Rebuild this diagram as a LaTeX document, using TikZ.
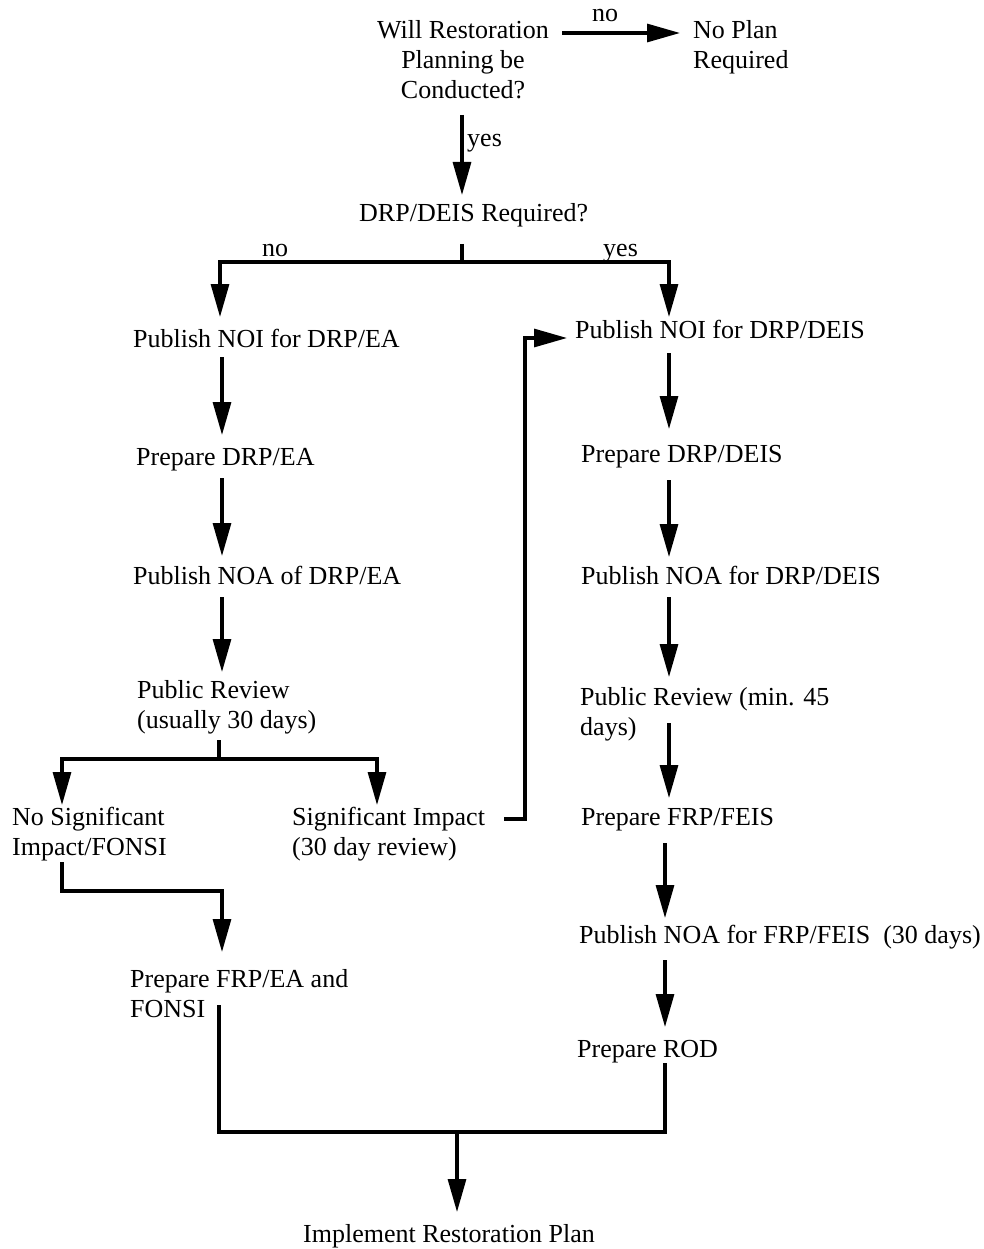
\documentclass[tikz,border=0pt]{standalone}
\usepackage{fontspec}
\setmainfont{Liberation Serif}
\usetikzlibrary{arrows.meta}
\begin{document}
\begin{tikzpicture}[x=1pt,y=-1pt,
  txt/.style={inner sep=0pt, font=\fontsize{26}{30}\selectfont, anchor=base west, align=left},
  ln/.style={line width=3.1pt},
  arr/.style={line width=3.1pt, -{Triangle[length=33pt,width=18pt]}}]
\useasboundingbox (0,0) rectangle (984,1249);
% nodes (multi-line nodes are placed at the baseline of their last line)
\node[txt, align=center, anchor=base] (q1) at (463,99) {Will Restoration\\Planning be\\Conducted?};
\node[txt] (noplan) at (693,69) {No Plan\\Required};
\node[txt, anchor=base] (lno1) at (605,22) {no};
\node[txt] (lyes1) at (467,147) {yes};
\node[txt] (q2) at (359,222) {DRP/DEIS Required?};
\node[txt] (lno2) at (262,257) {no};
\node[txt] (lyes2) at (603,257) {yes};
\node[txt] (a1) at (133,347) {Publish NOI for DRP/EA};
\node[txt] (a2) at (136,465) {Prepare DRP/EA};
\node[txt] (a3) at (133,584) {Publish NOA of DRP/EA};
\node[txt] (a4) at (137,728) {Public Review\\(usually 30 days)};
\node[txt] (a5) at (12,855) {No Significant\\Impact/FONSI};
\node[txt] (a6) at (292,855) {Significant Impact\\(30 day review)};
\node[txt] (a7) at (130,1017) {Prepare FRP/EA and\\FONSI};
\node[txt] (b1) at (575,338) {Publish NOI for DRP/DEIS};
\node[txt] (b2) at (581,462) {Prepare DRP/DEIS};
\node[txt] (b3) at (581,584) {Publish NOA for DRP/DEIS};
\node[txt] (b4) at (580,735) {Public Review (min. 45\\days)};
\node[txt] (b5) at (581,825) {Prepare FRP/FEIS};
\node[txt] (b6) at (579,943) {Publish NOA for FRP/FEIS\ \ (30 days)};
\node[txt] (b7) at (577,1057) {Prepare ROD};
\node[txt] (fin) at (303,1242) {Implement Restoration Plan};
% connector points
\coordinate (q1e) at (562,33);   \coordinate (npw) at (680,33);
\coordinate (q1s) at (462,115);  \coordinate (q2n) at (462,195);
\coordinate (q2s) at (462,244);  \coordinate (q2j) at (462,262);
\coordinate (a1n) at (220,317);  \coordinate (b1n) at (669,317);
\coordinate (a1s) at (222,357);  \coordinate (a2n) at (222,435);
\coordinate (a2s) at (222,478);  \coordinate (a3n) at (222,556);
\coordinate (a3s) at (222,597);  \coordinate (a4n) at (222,672);
\coordinate (a4s) at (219,740);  \coordinate (a4j) at (219,759);
\coordinate (a5n) at (62,805);   \coordinate (a6n) at (377,805);
\coordinate (a5s) at (62,862);   \coordinate (a5j) at (62,891);
\coordinate (a7n) at (222,952);
\coordinate (a6e) at (504,819);  \coordinate (a6j) at (525,819);
\coordinate (b1w) at (567,338);
\coordinate (b1s) at (669,353);  \coordinate (b2n) at (669,429);
\coordinate (b2s) at (669,480);  \coordinate (b3n) at (669,557);
\coordinate (b3s) at (669,597);  \coordinate (b4n) at (669,677);
\coordinate (b4s) at (669,723);  \coordinate (b5n) at (669,798);
\coordinate (b5s) at (665,843);  \coordinate (b6n) at (665,918);
\coordinate (b6s) at (665,960);  \coordinate (b7n) at (665,1027);
\coordinate (b7s) at (665,1063);
\coordinate (a7s) at (219,1005);
\coordinate (mj) at (457,1132);  \coordinate (finn) at (457,1212);
% connectors
\draw[arr] (q1e) -- (npw);
\draw[arr] (q1s) -- (q2n);
\draw[ln] (q2s) -- (q2j);
\draw[arr] (q2j) -| (a1n);
\draw[arr] (q2j) -| (b1n);
\draw[arr] (a1s) -- (a2n);
\draw[arr] (a2s) -- (a3n);
\draw[arr] (a3s) -- (a4n);
\draw[ln] (a4s) -- (a4j);
\draw[arr] (a4j) -| (a5n);
\draw[arr] (a4j) -| (a6n);
\draw[arr] (a5s) -- (a5j) -| (a7n);
\draw[arr] (a6e) -- (a6j) |- (b1w);
\draw[arr] (b1s) -- (b2n);
\draw[arr] (b2s) -- (b3n);
\draw[arr] (b3s) -- (b4n);
\draw[arr] (b4s) -- (b5n);
\draw[arr] (b5s) -- (b6n);
\draw[arr] (b6s) -- (b7n);
\draw[ln, line join=miter] (a7s) |- (mj) -| (b7s);
\draw[arr] (mj) -- (finn);
\end{tikzpicture}
\end{document}
